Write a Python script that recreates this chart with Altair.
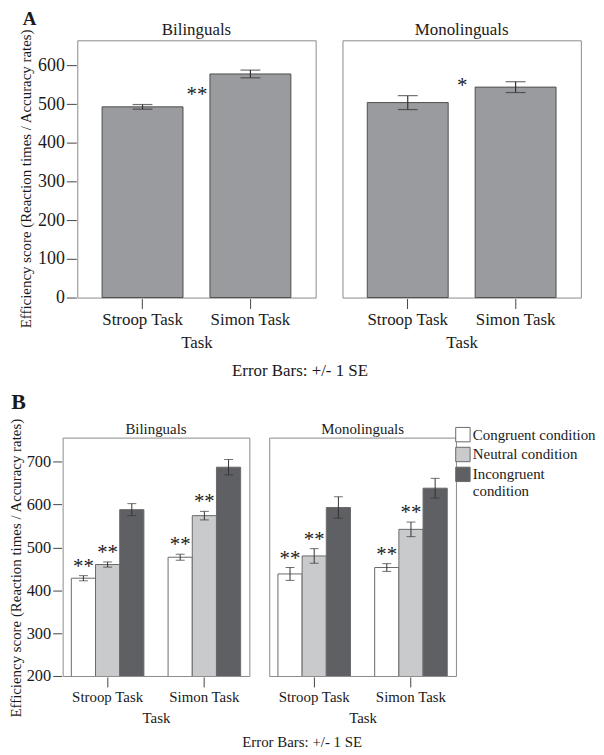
import altair as alt
import pandas as pd

FONT = "Liberation Serif"
INK = "#1a1a1a"
YTITLE = "Efficiency score (Reaction times / Accuracy rates)"

groups = ["Bilinguals", "Monolinguals"]
tasks = ["Stroop Task", "Simon Task"]
conditions = ["Congruent condition", "Neutral condition", "Incongruent condition"]

# ---- Panel A: efficiency score per task ----
a_bilingual_mean = [493, 578]
a_bilingual_se = [6, 10]
a_monolingual_mean = [504, 544]
a_monolingual_se = [18, 14]
a_marks_bilingual = ["**", ""]
a_marks_monolingual = ["*", ""]

# ---- Panel B: efficiency score per task and condition ----
b_bil_stroop_mean = [428, 460, 588]
b_bil_stroop_se = [6, 6, 14]
b_bil_simon_mean = [477, 574, 687]
b_bil_simon_se = [7, 10, 18]
b_mono_stroop_mean = [438, 480, 593]
b_mono_stroop_se = [15, 17, 25]
b_mono_simon_mean = [453, 542, 638]
b_mono_simon_se = [9, 17, 23]
b_marks = ["**", "**", ""]

rows_a = []
for g, means, ses, marks in zip(
    groups,
    [a_bilingual_mean, a_monolingual_mean],
    [a_bilingual_se, a_monolingual_se],
    [a_marks_bilingual, a_marks_monolingual],
):
    for t, m, s, k in zip(tasks, means, ses, marks):
        rows_a.append(dict(group=g, task=t, mean=m, lo=m - s, hi=m + s, mark=k))
df_a = pd.DataFrame(rows_a)

rows_b = []
b_sets = {
    ("Bilinguals", "Stroop Task"): (b_bil_stroop_mean, b_bil_stroop_se),
    ("Bilinguals", "Simon Task"): (b_bil_simon_mean, b_bil_simon_se),
    ("Monolinguals", "Stroop Task"): (b_mono_stroop_mean, b_mono_stroop_se),
    ("Monolinguals", "Simon Task"): (b_mono_simon_mean, b_mono_simon_se),
}
for (g, t), (means, ses) in b_sets.items():
    for c, m, s, k in zip(conditions, means, ses, b_marks):
        rows_b.append(dict(group=g, task=t, condition=c, mean=m, lo=m - s, hi=m + s, mark=k))
df_b = pd.DataFrame(rows_b)

# ---------------- Panel A ----------------
fsA = 17
xA = alt.X(
    "task:N", sort=tasks,
    scale=alt.Scale(paddingInner=0.25, paddingOuter=0.23),
    axis=alt.Axis(title="Task", labelAngle=0, domain=False, tickSize=10, tickColor="#444",
                  labelFontSize=fsA, titleFontSize=fsA, labelPadding=3, titlePadding=7),
)
yA_axis = alt.Axis(title=YTITLE, values=[0, 100, 200, 300, 400, 500, 600], grid=False,
                   domain=False, tickSize=10, tickColor="#444", labelFontSize=18,
                   titleFontSize=15, labelPadding=2, titlePadding=4, titleY=139)
yA_scale = alt.Scale(domain=[0, 665], nice=False, zero=False)

barsA = alt.Chart().mark_bar(color="#9a9b9f", stroke="#4e4e4e", strokeWidth=1).encode(
    x=xA, y=alt.Y("mean:Q", scale=yA_scale, axis=yA_axis))
ruleA = alt.Chart().mark_rule(color="#333333", strokeWidth=1.2).encode(
    x=xA, y=alt.Y("lo:Q", scale=yA_scale, axis=yA_axis), y2="hi:Q")
capLoA = alt.Chart().mark_tick(color="#333333", size=20, thickness=1.2).encode(
    x=xA, y=alt.Y("lo:Q", scale=yA_scale, axis=yA_axis))
capHiA = alt.Chart().mark_tick(color="#333333", size=20, thickness=1.2).encode(
    x=xA, y=alt.Y("hi:Q", scale=yA_scale, axis=yA_axis))
starsA = alt.Chart().transform_filter("datum.mark != ''").mark_text(
    font=FONT, fontSize=21, color=INK, baseline="alphabetic", dx=14, dy=-4).encode(
    x=alt.X("task:N", sort=tasks, bandPosition=1), y=alt.Y("hi:Q", scale=yA_scale, axis=yA_axis),
    text="mark:N")

chartA = alt.layer(barsA, ruleA, capLoA, capHiA, starsA, data=df_a).properties(
    width=240, height=259
).facet(
    column=alt.Column("group:N", sort=groups,
                      header=alt.Header(title=None, labelFont=FONT, labelFontSize=fsA,
                                        labelPadding=0, labelColor=INK)),
    spacing=25,
).properties(
    title=alt.TitleParams("Error Bars: +/- 1 SE", orient="bottom", font=FONT, fontSize=17,
                          fontWeight="normal", color=INK, anchor="middle", offset=13)
)
panelA = alt.vconcat(chartA, title=alt.TitleParams("A", anchor="start", font=FONT, fontSize=19,
                                                   fontWeight="bold", color=INK, offset=-8, dx=4))

# ---------------- Panel B ----------------
fsB = 15
xB = alt.X(
    "task:N", sort=tasks,
    scale=alt.Scale(paddingInner=0.25, paddingOuter=0.09),
    axis=alt.Axis(title="Task", labelAngle=0, domain=False, tickSize=10, tickColor="#444",
                  labelFontSize=fsB, titleFontSize=fsB, labelPadding=3, titlePadding=6),
)
xoB = alt.XOffset("condition:N", sort=conditions, scale=alt.Scale(paddingInner=0, paddingOuter=0))
yB_axis = alt.Axis(title=YTITLE, values=[200, 300, 400, 500, 600, 700], grid=False,
                   domain=False, tickSize=9, tickColor="#444", labelFontSize=16.5,
                   titleFontSize=15, labelPadding=2, titlePadding=3, titleY=131)
yB_scale = alt.Scale(domain=[200, 756], nice=False, zero=False)

fill_scale = alt.Scale(domain=conditions, range=["#ffffff", "#c9cacc", "#5f6064"])
barsB = alt.Chart().mark_bar(stroke="#6a6a6a", strokeWidth=1, clip=True).encode(
    x=xB, xOffset=xoB, y=alt.Y("mean:Q", scale=yB_scale, axis=yB_axis),
    fill=alt.Fill("condition:N", sort=conditions, scale=fill_scale,
                  legend=alt.Legend(title=None, orient="none", legendX=395, legendY=-11,
                                    padding=0,
                                    symbolType="square", symbolSize=210,
                                    symbolStrokeColor="#6a6a6a", symbolStrokeWidth=1,
                                    labelFont=FONT, labelFontSize=15, labelColor=INK,
                                    labelOffset=2, rowPadding=0, labelLimit=200,
                                    labelExpr="datum.label == 'Incongruent condition' ? ['Incongruent', 'condition'] : datum.label")),
)
ruleB = alt.Chart().mark_rule(color="#333333", strokeWidth=1).encode(
    x=xB, xOffset=xoB, y=alt.Y("lo:Q", scale=yB_scale, axis=yB_axis), y2="hi:Q")
capLoB = alt.Chart().mark_tick(color="#333333", size=9, thickness=1).encode(
    x=xB, xOffset=xoB, y=alt.Y("lo:Q", scale=yB_scale, axis=yB_axis))
capHiB = alt.Chart().mark_tick(color="#333333", size=9, thickness=1).encode(
    x=xB, xOffset=xoB, y=alt.Y("hi:Q", scale=yB_scale, axis=yB_axis))
starsB = alt.Chart().transform_filter("datum.mark != ''").mark_text(
    font=FONT, fontSize=21, color=INK, baseline="alphabetic", dy=-3).encode(
    x=xB, xOffset=xoB, y=alt.Y("hi:Q", scale=yB_scale, axis=yB_axis), text="mark:N")

chartB = alt.layer(barsB, ruleB, capLoB, capHiB, starsB, data=df_b).properties(
    width=188, height=240
).facet(
    column=alt.Column("group:N", sort=groups,
                      header=alt.Header(title=None, labelFont=FONT, labelFontSize=fsB,
                                        labelPadding=0, labelColor=INK)),
    spacing=18,
).properties(
    title=alt.TitleParams("Error Bars: +/- 1 SE", orient="bottom", font=FONT, fontSize=15,
                          fontWeight="normal", color=INK, anchor="middle", offset=9)
)
panelB = alt.vconcat(chartB, title=alt.TitleParams("B", anchor="start", font=FONT, fontSize=22,
                                                   fontWeight="bold", color=INK, offset=4, dx=3)
                     ).resolve_scale(fill="independent").resolve_legend(fill="independent")

chart = alt.vconcat(panelA, panelB, center=True, spacing=11).properties(
    padding=0, background="white"
).resolve_scale(fill="independent").resolve_legend(fill="independent").configure_view(
    stroke="#8a8a8a", strokeWidth=1
).configure_axis(
    labelFont=FONT, titleFont=FONT, labelColor=INK, titleColor=INK, titleFontWeight="normal"
)

chart.save("out.html", embed_options={"renderer": "svg", "actions": False})
